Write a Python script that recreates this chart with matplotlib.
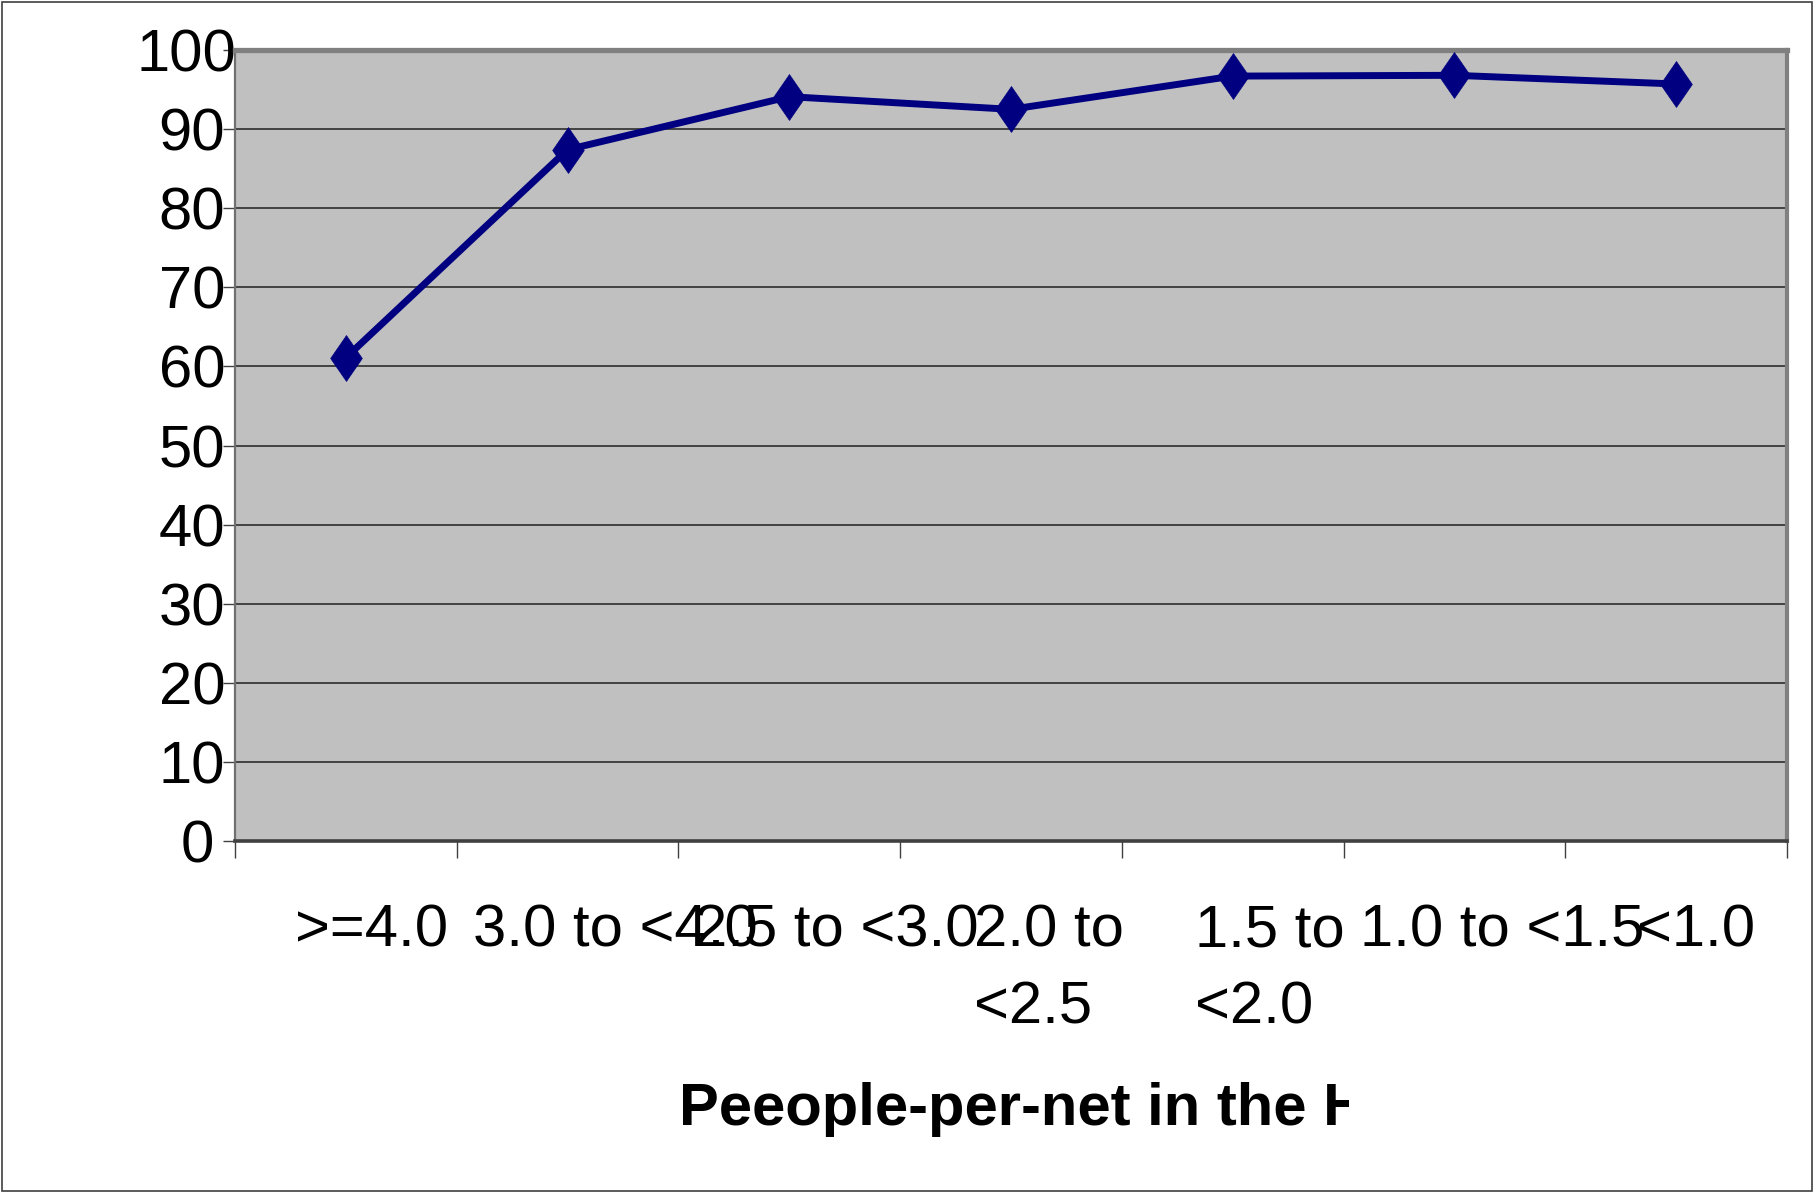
import matplotlib
matplotlib.use("Agg")
import matplotlib.pyplot as plt
from matplotlib.transforms import ScaledTranslation, Bbox
from matplotlib.patches import Rectangle

categories = [">=4.0", "3.0 to <4.0", "2.5 to <3.0", "2.0 to\n<2.5",
              "1.5 to\n<2.0", "1.0 to <1.5", "<1.0"]
values = [61.1, 87.4, 94.1, 92.5, 96.7, 96.8, 95.7]
y_ticks = list(range(0, 101, 10))
x_title = "Peeople-per-net in the H"

plt.rcParams["font.family"] = ["Liberation Sans", "DejaVu Sans"]

W, H, DPI = 1817, 1193, 100
fig = plt.figure(figsize=(W / DPI, H / DPI), dpi=DPI)
ax = fig.add_axes([235 / W, 1 - 841 / H, 1552 / W, 791 / H])
ax.set_facecolor("#C0C0C0")

# diamond marker, a bit taller than wide
diamond = [(0, 1), (0.69, 0), (0, -1), (-0.69, 0), (0, 1)]
x = list(range(len(categories)))
ax.plot(x, values, color="#000080", lw=5.0, marker=diamond, ms=33,
        mfc="#000080", mec="#000080", mew=0.5, zorder=3, clip_on=False)

ax.set_xlim(-0.5, len(categories) - 0.5)
ax.set_ylim(0, 100)
ax.set_yticks(y_ticks)
ax.set_yticklabels([str(v) for v in y_ticks])
ax.yaxis.grid(True, color="#202020", lw=1.1)
ax.set_axisbelow(True)

ax.set_xticks(x)
ax.set_xticklabels(categories, linespacing=1.5, ha="left", va="baseline",
                   multialignment="left")
ax.set_xticks([i - 0.5 for i in range(len(categories) + 1)], minor=True)
ax.tick_params(axis="x", which="major", length=0, pad=76, labelsize=43)
ax.tick_params(axis="x", which="minor", length=12, width=1.0, color="#404040",
               direction="out")
ax.tick_params(axis="y", length=9, width=1.0, color="#404040", pad=14,
               labelsize=43)

ax.spines["top"].set_color("#808080")
ax.spines["top"].set_linewidth(3.8)
ax.spines["right"].set_color("#808080")
ax.spines["right"].set_linewidth(3.0)
ax.spines["left"].set_color("#707070")
ax.spines["left"].set_linewidth(1.6)
ax.spines["bottom"].set_color("#404040")
ax.spines["bottom"].set_linewidth(2.6)

lab = ax.set_xlabel(x_title, fontsize=43, fontweight="bold", ha="left",
                    va="baseline")
ax.xaxis.set_label_coords((679 - 235) / 1552, (841 - 1125) / 791)

fig.patches.append(Rectangle((0.001, 0.002), 0.996, 0.996,
                             transform=fig.transFigure, fill=False,
                             ec="#404040", lw=1.2))

# labels in the original are offset, as if their width were under-estimated;
# wrapped labels hang from the same first baseline as the single-line ones
fig.canvas.draw()
r = fig.canvas.get_renderer()
xt = ax.get_xticklabels()
h_one = xt[0].get_window_extent(r).height
step = None
for t in xt:
    ext = t.get_window_extent(r)
    k, dy = 3, 0.0
    if "\n" in t.get_text():
        k = 4
        if step is None:
            step = ext.height - h_one
        dy = step
    t.set_transform(t.get_transform() +
                    ScaledTranslation(-ext.width / k / DPI, -dy / DPI, fig.dpi_scale_trans))
for t in ax.get_yticklabels():
    w = t.get_window_extent(r).width
    t.set_transform(t.get_transform() + ScaledTranslation(w / 3 / DPI, 0, fig.dpi_scale_trans))

lab.set_clip_box(Bbox([[0, 0], [1349, H]]))
lab.set_clip_on(True)

fig.savefig("out.png", dpi=DPI)
